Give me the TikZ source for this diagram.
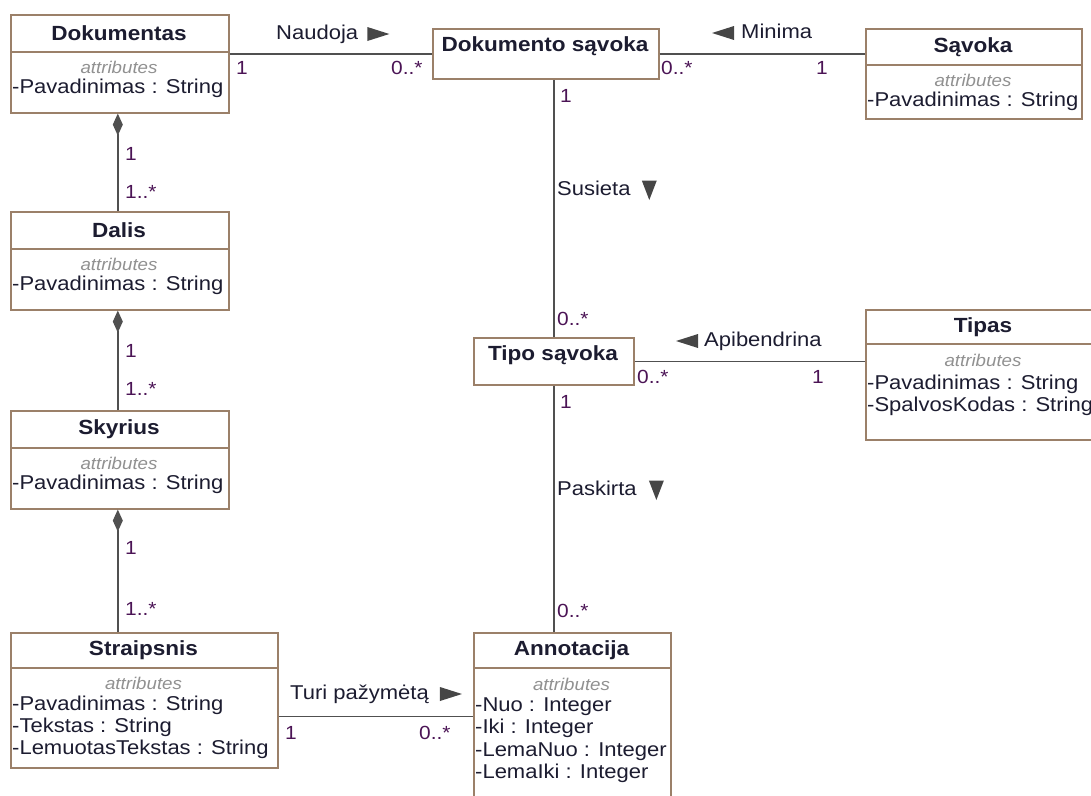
\documentclass[tikz,border=0pt]{standalone}
\usepackage{fontspec}
\setmainfont{Liberation Sans}[FakeStretch=1.1]
\usetikzlibrary{arrows.meta}
\definecolor{boxcol}{RGB}{155,128,105}
\definecolor{linecol}{RGB}{80,80,80}
\definecolor{txtcol}{RGB}{28,28,48}
\definecolor{multcol}{RGB}{75,20,85}
\definecolor{attrlblcol}{RGB}{145,145,145}
\definecolor{tricol}{RGB}{70,70,70}
\begin{document}
\begin{tikzpicture}[x=1pt,y=-1pt,
  cls/.style={draw=boxcol, line width=1.6pt, fill=white, anchor=north west, inner sep=0pt},
  sep/.style={draw=boxcol, line width=1.6pt},
  cname/.style={font=\fontsize{20.5}{22}\selectfont\bfseries, text=txtcol, inner sep=0pt},
  albl/.style={font=\fontsize{17}{20}\selectfont\itshape, text=attrlblcol, inner sep=0pt},
  attr/.style={font=\fontsize{20}{22}\selectfont, text=txtcol, inner sep=0pt, anchor=west, text height=14pt, text depth=4pt},
  lbl/.style={font=\fontsize{20}{22}\selectfont, text=txtcol, inner sep=0pt, anchor=west, text height=14pt, text depth=4pt},
  mult/.style={font=\fontsize{19}{22}\selectfont, text=multcol, inner sep=0pt, anchor=west, text height=14pt, text depth=4pt},
  assoc/.style={draw=linecol, line width=1.4pt},
  comp/.style={draw=linecol, line width=1.4pt, -{Diamond[length=22pt,width=10pt]}},
  tri/.style={fill=tricol}
]
\useasboundingbox (0,0) rectangle (1091,795);

% ---------- class boxes ----------
\node[cls, minimum width=218pt, minimum height=98pt] (dok) at (10,14) {};
\draw[sep] ([yshift=-38pt]dok.north west) -- ([yshift=-38pt]dok.north east);
\node[cname] (dokn) at (119,33) {Dokumentas};
\node[albl] (doka) at (119,67) {attributes};
\node[attr] (dok1) at (12,88) {-Pavadinimas : String};

\node[cls, minimum width=218pt, minimum height=98pt] (dal) at (10,211) {};
\draw[sep] ([yshift=-38pt]dal.north west) -- ([yshift=-38pt]dal.north east);
\node[cname] (daln) at (119,230) {Dalis};
\node[albl] (dala) at (119,264) {attributes};
\node[attr] (dal1) at (12,285) {-Pavadinimas : String};

\node[cls, minimum width=218pt, minimum height=98pt] (sky) at (10,410) {};
\draw[sep] ([yshift=-38pt]sky.north west) -- ([yshift=-38pt]sky.north east);
\node[cname] (skyn) at (119,429) {Skyrius};
\node[albl] (skya) at (119,463) {attributes};
\node[attr] (sky1) at (12,484) {-Pavadinimas : String};

\node[cls, minimum width=267pt, minimum height=135pt] (str) at (10,632) {};
\draw[sep] ([yshift=-36pt]str.north west) -- ([yshift=-36pt]str.north east);
\node[cname] (strn) at (143.5,650) {Straipsnis};
\node[albl] (stra) at (143.5,683) {attributes};
\node[attr] (str1) at (12,705) {-Pavadinimas : String};
\node[attr] (str2) at (12,727) {-Tekstas : String};
\node[attr] (str3) at (12,749) {-LemuotasTekstas : String};

\node[cls, minimum width=226pt, minimum height=50pt] (dsv) at (432,28) {};
\node[cname] (dsvn) at (545,46) {Dokumento sąvoka};

\node[cls, minimum width=216pt, minimum height=90pt] (sav) at (865,28) {};
\draw[sep] ([yshift=-37pt]sav.north west) -- ([yshift=-37pt]sav.north east);
\node[cname] (savn) at (973,47) {Sąvoka};
\node[albl] (sava) at (973,80) {attributes};
\node[attr] (sav1) at (867,101) {-Pavadinimas : String};

\node[cls, minimum width=160pt, minimum height=47pt] (tsv) at (473,337) {};
\node[cname] (tsvn) at (553,355) {Tipo sąvoka};

\node[cls, minimum width=236pt, minimum height=130pt] (tip) at (865,309) {};
\draw[sep] ([yshift=-35pt]tip.north west) -- ([yshift=-35pt]tip.north east);
\node[cname] (tipn) at (983,327) {Tipas};
\node[albl] (tipa) at (983,360) {attributes};
\node[attr] (tip1) at (867,384) {-Pavadinimas : String};
\node[attr] (tip2) at (867,406) {-SpalvosKodas : String};

\node[cls, minimum width=197pt, minimum height=170pt] (ann) at (473,632) {};
\draw[sep] ([yshift=-36pt]ann.north west) -- ([yshift=-36pt]ann.north east);
\node[cname] (annn) at (571.5,650) {Annotacija};
\node[albl] (anna) at (571.5,684) {attributes};
\node[attr] (ann1) at (475,706) {-Nuo : Integer};
\node[attr] (ann2) at (475,728) {-Iki : Integer};
\node[attr] (ann3) at (475,751) {-LemaNuo : Integer};
\node[attr] (ann4) at (475,773) {-LemaIki : Integer};

% ---------- compositions ----------
\draw[comp] ([xshift=-2pt]dal.north) -- ([xshift=-2pt]dok.south);
\node[mult] at (125,155) {1};
\node[mult] at (125,193) {1..*};
\draw[comp] ([xshift=-2pt]sky.north) -- ([xshift=-2pt]dal.south);
\node[mult] at (125,352) {1};
\node[mult] at (125,390) {1..*};
\coordinate (cs) at ([xshift=-2pt]sky.south |- str.north);
\draw[comp] (cs) -- ([xshift=-2pt]sky.south);
\node[mult] at (125,549) {1};
\node[mult] at (125,610) {1..*};

% ---------- associations ----------
% Dokumentas -- Dokumento savoka
\draw[assoc] (dok.east |- dsv.west) -- (dsv.west);
\node[lbl] (naud) at (276,34) {Naudoja};
\fill[tri] ([xshift=9pt,yshift=7pt]naud.east) -- ([xshift=9pt,yshift=-7pt]naud.east) -- ([xshift=31pt]naud.east) -- cycle;
\node[mult] at (236,69) {1};
\node[mult] at (391,69) {0..*};

% Dokumento savoka -- Savoka
\draw[assoc] (dsv.east) -- (sav.west |- dsv.east);
\node[lbl] (mini) at (741,33) {Minima};
\fill[tri] ([xshift=-7pt,yshift=7pt]mini.west) -- ([xshift=-7pt,yshift=-7pt]mini.west) -- ([xshift=-29pt]mini.west) -- cycle;
\node[mult] at (661,69) {0..*};
\node[mult] at (816,69) {1};

% Dokumento savoka -- Tipo savoka
\draw[assoc] (tsv.north) -- (tsv.north |- dsv.south);
\node[mult] at (560,97) {1};
\node[lbl] (susi) at (557,190) {Susieta};
\fill[tri] ([xshift=11pt,yshift=9.5pt]susi.east) -- ([xshift=26pt,yshift=9.5pt]susi.east) -- ([xshift=18.5pt,yshift=-10pt]susi.east) -- cycle;
\node[mult] at (557,320) {0..*};

% Tipo savoka -- Tipas
\draw[assoc] (tsv.east) -- (tip.west |- tsv.east);
\node[lbl] (apib) at (704,341) {Apibendrina};
\fill[tri] ([xshift=-6pt,yshift=7pt]apib.west) -- ([xshift=-6pt,yshift=-7pt]apib.west) -- ([xshift=-28pt]apib.west) -- cycle;
\node[mult] at (637,378) {0..*};
\node[mult] at (812,378) {1};

% Tipo savoka -- Annotacija
\draw[assoc] (tsv.south) -- (tsv.south |- ann.north);
\node[mult] at (560,403) {1};
\node[lbl] (pask) at (557,490) {Paskirta};
\fill[tri] ([xshift=12pt,yshift=9.5pt]pask.east) -- ([xshift=27pt,yshift=9.5pt]pask.east) -- ([xshift=19.5pt,yshift=-10pt]pask.east) -- cycle;
\node[mult] at (557,612) {0..*};

% Straipsnis -- Annotacija
\coordinate (sa) at ([yshift=-16pt]str.east);
\draw[assoc] (sa) -- (ann.west |- sa);
\node[lbl] (turi) at (290,694) {Turi pažymėtą};
\fill[tri] ([xshift=11pt,yshift=7pt]turi.east) -- ([xshift=11pt,yshift=-7pt]turi.east) -- ([xshift=33pt]turi.east) -- cycle;
\node[mult] at (285,734) {1};
\node[mult] at (419,734) {0..*};
\end{tikzpicture}
\end{document}
